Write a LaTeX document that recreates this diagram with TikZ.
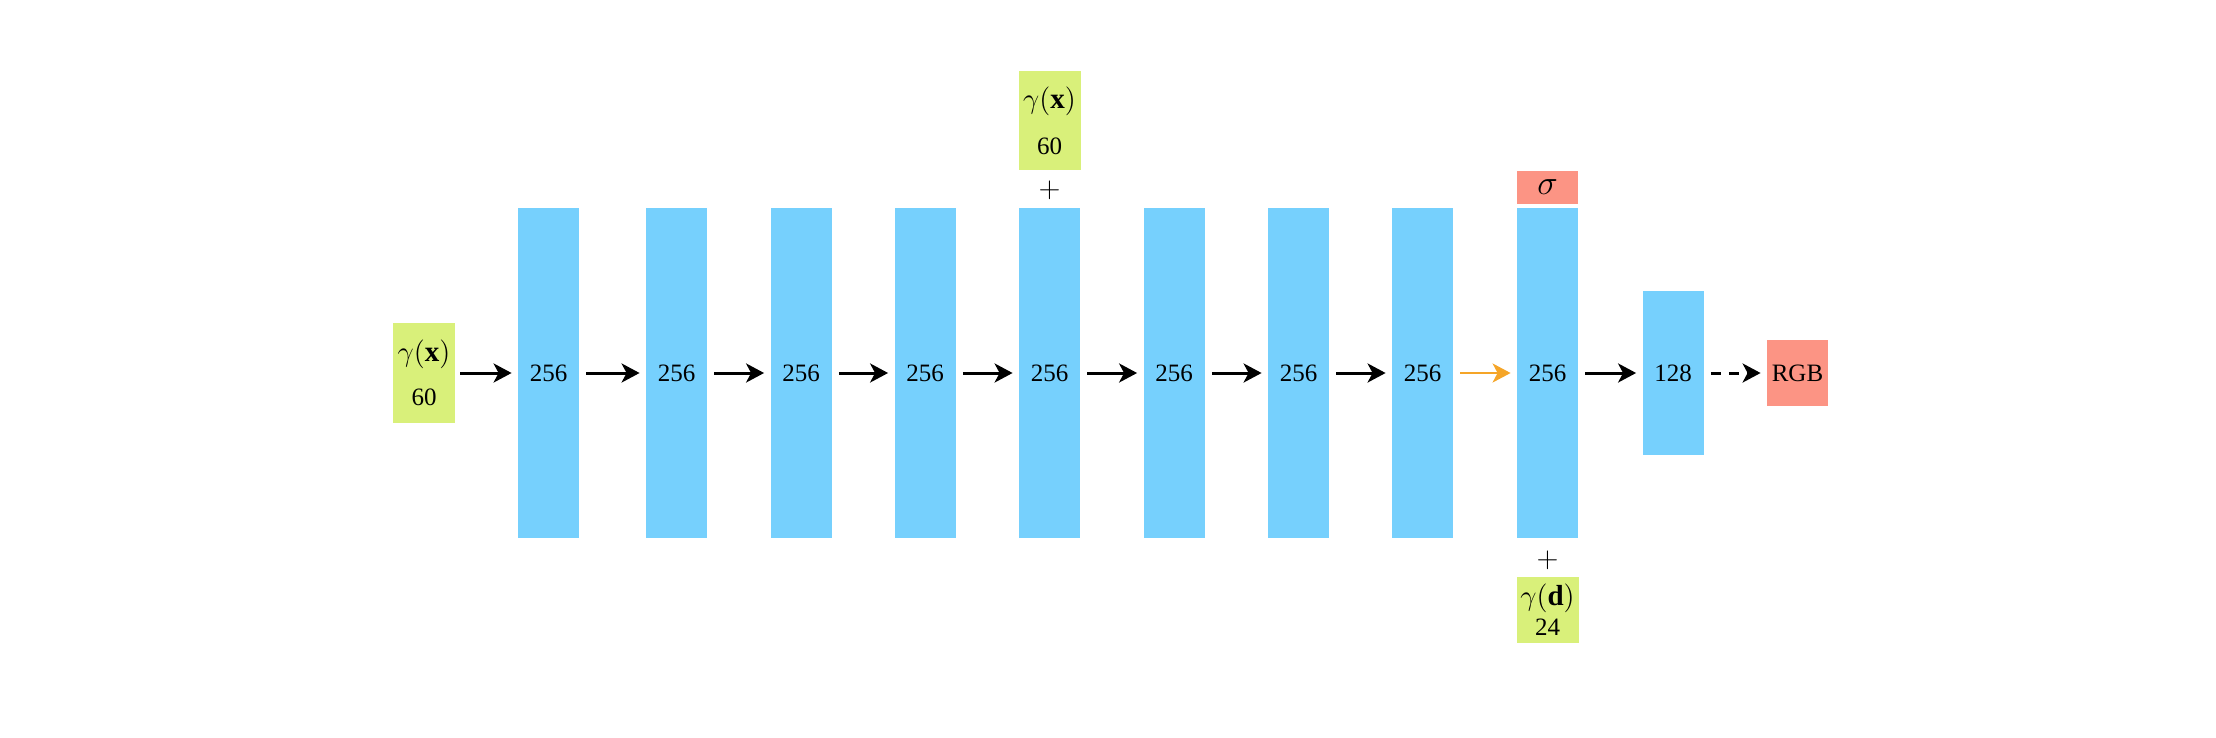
\documentclass[tikz,border=0pt]{standalone}
\usepackage{fontspec}
\setmainfont{Liberation Serif}
\usetikzlibrary{arrows.meta}
\definecolor{barblue}{RGB}{118,208,253}
\definecolor{ingreen}{RGB}{217,240,122}
\definecolor{outred}{RGB}{252,148,132}
\definecolor{arrorange}{RGB}{245,165,40}
\begin{document}
\begin{tikzpicture}[x=0.5pt,y=-0.5pt,
  every node/.style={font=\fontsize{12.5}{15}\selectfont, inner sep=0pt},
  bar/.style={fill=barblue, minimum width=30.5pt, minimum height=165pt},
  inbox/.style={fill=ingreen, minimum width=31pt, align=center},
  outbox/.style={fill=outred, minimum width=30.5pt},
  big/.style={font=\fontsize{14.5}{15}\selectfont},
  conn/.style={line width=1.5pt, -{Stealth[length=9pt,width=9.5pt,inset=2.5pt]}, shorten <=3.5pt, shorten >=3pt},
]
\useasboundingbox (0,0) rectangle (2216,738);
% input
\node[inbox, minimum height=50pt] (in) at (424,373) {{\fontsize{14.5}{15}\selectfont$\gamma(\mathbf{x})$}\\[7pt]60};
% bars
\node[bar] (b1) at (548.5,373) {256};
\node[bar] (b2) at (676.5,373) {256};
\node[bar] (b3) at (801,373) {256};
\node[bar] (b4) at (925,373) {256};
\node[bar] (b5) at (1049.5,373) {256};
\node[bar] (b6) at (1174,373) {256};
\node[bar] (b7) at (1298.5,373) {256};
\node[bar] (b8) at (1422.5,373) {256};
\node[bar] (b9) at (1547.5,373) {256};
\node[bar, minimum height=82pt] (b10) at (1673,373) {128};
\node[outbox, minimum height=33pt] (rgb) at (1797.5,373) {RGB};
% skip input
\node[inbox, minimum height=49.5pt] (skip) at (1049.5,120.5) {{\fontsize{14.5}{15}\selectfont$\gamma(\mathbf{x})$}\\[8pt]60};
\node[big] (p1) at (1049.5,190) {$+$};
% sigma
\node[outbox, minimum height=16.5pt, font=\fontsize{17}{17}\selectfont] (sig) at (1547.5,187.5) {$\sigma$};
% direction
\node[big] (p2) at (1547.5,560) {$+$};
\node[inbox, minimum height=33pt] (dir) at (1547.5,610) {{\fontsize{14.5}{15}\selectfont$\gamma(\mathbf{d})$}\\[0pt]24};
% connectors
\draw[conn, shorten <=2.5pt] (in) -- (b1);
\draw[conn] (b1) -- (b2);
\draw[conn] (b2) -- (b3);
\draw[conn] (b3) -- (b4);
\draw[conn] (b4) -- (b5);
\draw[conn] (b5) -- (b6);
\draw[conn] (b6) -- (b7);
\draw[conn] (b7) -- (b8);
\draw[conn, draw=arrorange, line width=1.2pt] (b8) -- (b9);
\draw[conn] (b9) -- (b10);
\draw[conn, dash pattern=on 5pt off 4pt] (b10) -- (rgb);
\end{tikzpicture}
\end{document}
